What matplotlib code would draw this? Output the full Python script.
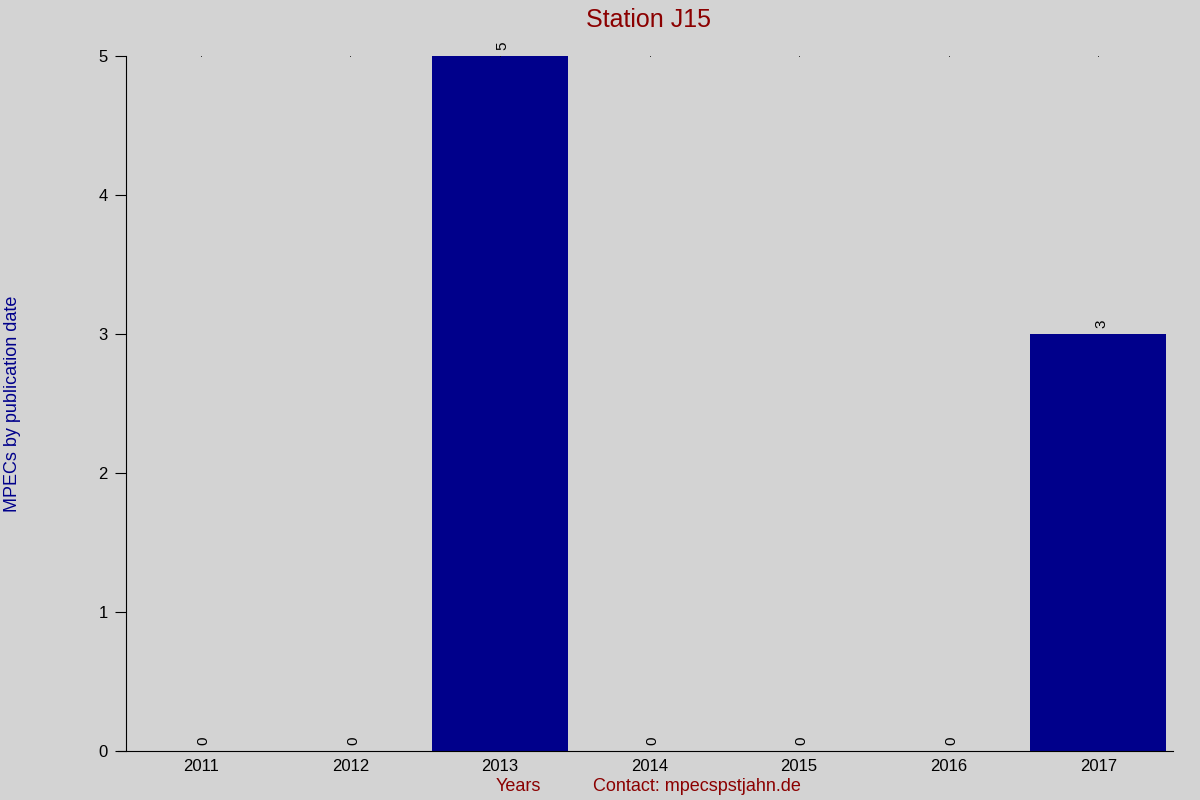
import matplotlib
matplotlib.use('Agg')
import matplotlib.pyplot as plt

years = ['2011', '2012', '2013', '2014', '2015', '2016', '2017']
counts = [0, 0, 5, 0, 0, 0, 3]

plt.rcParams['font.family'] = ['Liberation Sans', 'DejaVu Sans']

fig = plt.figure(figsize=(12, 8), dpi=100, facecolor='#d3d3d3')
ax = fig.add_axes([0.105, 0.06125, 0.8725, 0.86875])
ax.set_facecolor('#d3d3d3')

x = list(range(len(years)))
bars = ax.bar(x, counts, width=0.91, color='#00008b')
for xi, c in zip(x, counts):
    ax.annotate(str(c), (xi, c), xytext=(2, 4), textcoords='offset points',
                rotation=90, ha='center', va='bottom', fontsize=11)

ax.set_xlim(-0.5, len(years) - 0.5)
ax.set_ylim(0, 5)
ax.set_xticks(x)
ax.set_xticklabels(years)
ax.set_yticks([0, 1, 2, 3, 4, 5])
ax.tick_params(axis='both', labelsize=12, direction='out')
ax.tick_params(axis='y', length=8, pad=5)
ax.tick_params(axis='x', length=0, pad=6)
ax.spines['top'].set_visible(False)
ax.spines['right'].set_visible(False)
ax.spines['bottom'].set_bounds(-0.555, len(years) - 0.5)
ax.spines['bottom'].set_clip_on(False)

# tiny top marks
ax.plot(x, [5] * len(x), linestyle='none', marker='s', markersize=0.5,
        markeredgewidth=0, color='black', clip_on=False)

fig.text(0.54, 0.99, 'Station J15', color='#8b0000', fontsize=18, ha='center', va='top')
fig.text(0.0105, 0.495, 'MPECs by publication date', color='#00008b', fontsize=13,
         rotation=90, ha='center', va='center')
fig.text(0.432, 0.017, 'Years', color='#8b0000', fontsize=13, ha='center', va='center')
fig.text(0.581, 0.017, 'Contact: mpecspstjahn.de', color='#8b0000', fontsize=13, ha='center', va='center')

fig.savefig('out.png', dpi=100, facecolor=fig.get_facecolor())
